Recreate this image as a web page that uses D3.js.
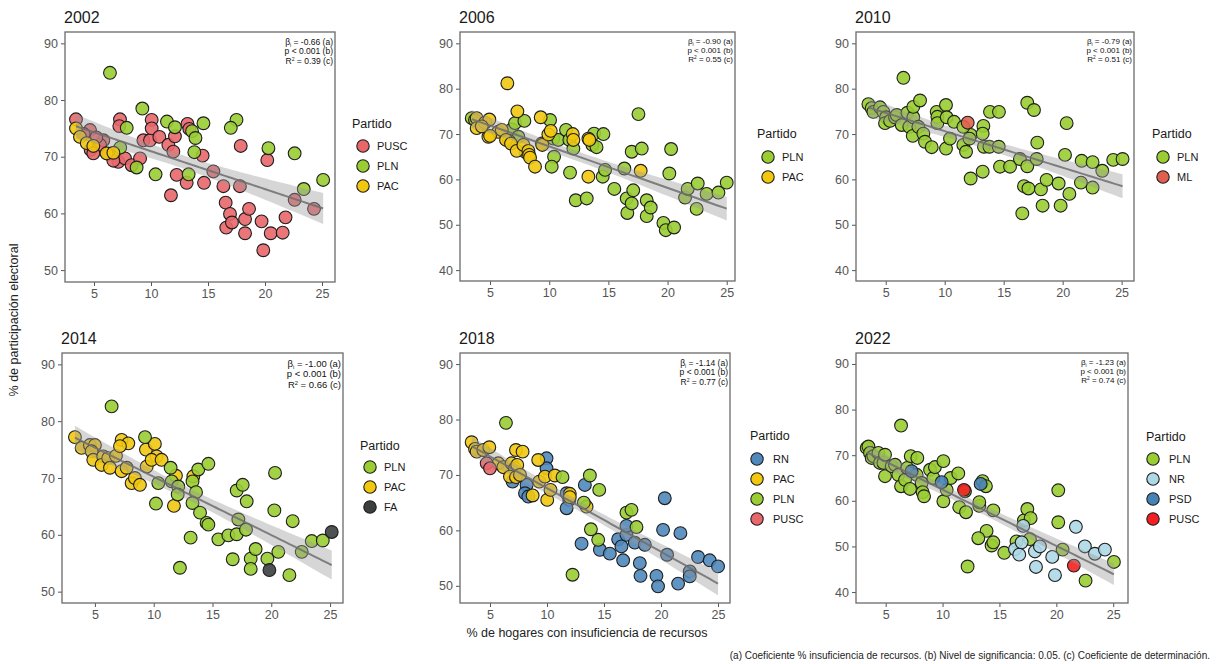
<!DOCTYPE html>
<html><head><meta charset="utf-8">
<script src="https://cdn.jsdelivr.net/npm/d3@7"></script>
<style>body{margin:0;background:#fff} svg{display:block;font-family:"Liberation Sans",Arial,sans-serif}</style>
</head><body><svg id="c" width="1216" height="664"></svg>
<script>
// ---------------- DATA ----------------
const years = ["2002","2006","2010","2014","2018","2022"];
const xTickValues = [5,10,15,20,25];
const yTicks2002 = [50,60,70,80,90];
const yTicks2006 = [40,50,60,70,80,90];
const yTicks2010 = [40,50,60,70,80,90];
const yTicks2014 = [50,60,70,80,90];
const yTicks2018 = [50,60,70,80,90];
const yTicks2022 = [40,50,60,70,80,90];
const betaLabels = ["-0.66","-0.90","-0.79","-1.00","-1.14","-1.23"];
const pLabels = ["p < 0.001 (b)","p < 0.001 (b)","p < 0.001 (b)","p < 0.001 (b)","p < 0.001 (b)","p < 0.001 (b)"];
const r2Labels = ["0.39","0.55","0.51","0.66","0.77","0.74"];

// 2002
const parties2002 = ["PUSC","PLN","PAC"];
const pts2002_PUSC = [[3.42,76.6],[4.65,74.7],[5.82,72.9],[5.53,72.1],[4.71,71.2],[4.94,70.6],[6.26,70.5],[7.13,69.1],[7.72,69.7],[8.3,68.5],[7.28,76.6],[7.22,75.4],[9.33,72.9],[9.91,72.9],[10.06,76.5],[10.06,75.0],[10.73,73.5],[11.52,72.1],[11.96,70.9],[12.1,73.6],[13.2,75.8],[13.36,74.9],[14.53,70.2],[12.25,66.8],[13.13,65.4],[11.75,63.2],[14.65,65.4],[15.47,67.4],[16.35,64.8],[17.8,64.8],[17.87,71.9],[16.55,61.9],[16.93,59.9],[18.25,59.0],[18.6,60.8],[16.6,57.5],[17.1,58.4],[18.25,56.5],[19.7,58.6],[20.5,56.5],[21.55,56.6],[21.8,59.3],[20.2,69.4],[22.6,62.4],[24.3,60.8],[19.85,53.5],[6.7,69.3],[9.04,69.7],[4.1,74.0],[5.2,73.4]];
const pts2002_PLN = [[6.4,84.8],[9.24,78.5],[7.87,75.1],[7.3,71.6],[11.4,76.2],[12.1,75.2],[14.6,75.9],[13.6,74.5],[13.9,73.3],[13.8,70.8],[17.5,76.5],[17.0,75.1],[20.3,71.5],[22.6,70.6],[25.1,65.9],[23.4,64.3],[8.74,68.1],[10.4,66.9],[13.3,66.9]];
const pts2002_PAC = [[3.42,75.0],[3.77,73.5],[4.36,72.4],[4.94,71.9],[6.1,70.6],[6.7,70.7]];

// 2006
const parties2006 = ["PLN","PAC"];
const pts2006_PLN = [[3.45,73.5],[3.73,73.1],[6.83,71.0],[7.39,69.4],[7.11,72.4],[7.9,72.9],[10.07,73.1],[10.35,69.0],[10.41,65.0],[10.21,62.8],[10.77,68.7],[11.42,70.9],[11.7,68.7],[12.04,66.8],[11.76,61.5],[12.24,55.4],[13.17,55.8],[13.65,67.6],[13.79,70.1],[14.0,67.1],[14.58,70.0],[14.52,60.6],[14.72,62.1],[15.5,57.9],[16.35,62.4],[16.55,55.8],[16.6,52.6],[16.97,54.7],[17.1,57.6],[16.97,66.1],[17.54,74.4],[17.82,66.8],[18.24,55.4],[18.24,51.9],[18.58,53.8],[19.65,50.4],[19.85,48.8],[20.55,49.4],[20.15,61.3],[20.3,66.7],[21.48,56.0],[22.46,53.5],[21.7,57.9],[22.55,59.1],[23.3,56.8],[24.3,57.1],[25.0,59.3],[6.6,68.5],[8.0,66.0]];
const pts2006_PAC = [[6.46,81.2],[3.87,73.5],[3.87,71.3],[4.58,72.5],[4.94,73.2],[4.86,69.4],[5.7,70.5],[5.99,70.9],[6.35,68.7],[6.77,67.9],[7.31,75.0],[7.25,66.3],[7.82,67.6],[8.24,66.3],[8.3,65.4],[8.38,64.8],[8.8,62.8],[9.28,73.7],[9.37,67.9],[9.42,67.6],[9.93,69.9],[10.13,70.7],[11.99,70.0],[12.04,68.7],[13.31,69.0],[13.39,68.7],[13.31,60.6],[17.73,61.9],[4.3,71.7],[5.0,69.6]];

// 2010
const parties2010 = ["PLN","ML"];
const pts2010_PLN = [[3.53,76.6],[3.81,75.7],[3.95,74.9],[4.52,75.9],[4.8,74.9],[5.03,73.7],[4.94,72.4],[5.37,72.9],[5.79,73.7],[5.93,74.2],[6.36,72.0],[6.5,82.4],[6.84,74.7],[7.0,71.6],[7.34,73.7],[7.34,76.0],[7.29,69.6],[7.77,71.6],[7.91,77.4],[8.19,70.1],[8.33,68.3],[8.9,67.1],[9.32,74.9],[9.38,73.8],[9.38,72.4],[10.11,76.4],[10.17,73.7],[10.11,66.8],[10.45,69.0],[10.79,72.7],[11.58,67.6],[11.81,66.1],[12.2,69.8],[12.2,60.2],[13.22,61.7],[13.28,71.8],[13.22,70.1],[13.33,67.2],[13.79,67.2],[13.84,74.9],[14.58,67.2],[14.6,74.9],[14.69,62.8],[15.54,62.8],[16.38,64.5],[16.58,52.5],[16.72,58.5],[17.0,62.9],[17.1,58.0],[17.0,76.9],[17.57,75.3],[17.8,64.5],[17.85,68.1],[18.16,57.8],[18.3,54.2],[18.64,59.9],[19.66,59.1],[19.83,54.2],[20.34,72.4],[20.2,65.4],[20.57,56.8],[21.61,64.1],[21.55,59.3],[22.54,63.8],[22.54,58.2],[23.36,61.9],[24.29,64.3],[25.08,64.5],[11.58,71.6],[12.1,69.0]];
const pts2010_ML = [[11.95,72.5]];

// 2014
const parties2014 = ["PLN","PAC","FA"];
const pts2014_PLN = [[6.42,82.6],[9.26,77.2],[10.39,69.1],[10.19,65.5],[11.44,71.8],[11.53,69.4],[12.09,68.5],[12.04,67.1],[12.23,54.2],[13.14,59.5],[13.3,69.4],[13.6,67.5],[13.3,65.6],[13.79,71.5],[14.65,72.5],[13.94,63.9],[14.5,62.1],[14.65,61.8],[15.5,59.2],[16.35,59.9],[17.06,60.1],[16.72,55.7],[17.2,62.7],[17.06,67.8],[17.57,68.8],[17.91,65.9],[17.85,60.9],[18.25,55.8],[18.25,54.0],[18.67,57.5],[19.67,55.8],[20.6,57.0],[20.32,70.9],[20.26,64.3],[21.82,62.4],[21.54,52.9],[22.59,57.0],[23.44,58.9],[24.38,59.0]];
const pts2014_PAC = [[3.3,77.2],[3.87,75.3],[4.57,75.8],[5.0,75.8],[4.72,74.7],[4.86,73.2],[5.71,73.8],[5.57,72.3],[6.13,73.5],[6.28,71.8],[6.79,73.9],[7.27,76.7],[7.84,76.1],[7.13,75.6],[7.27,71.2],[7.7,71.8],[8.12,69.1],[8.4,70.0],[8.83,68.8],[9.34,75.0],[9.4,72.0],[10.1,76.0],[10.25,73.8],[9.82,73.2],[10.67,73.2],[11.89,70.4],[11.72,65.1],[13.37,70.3]];
const pts2014_FA = [[19.84,53.8],[25.14,60.5]];

// 2018
const parties2018 = ["RN","PAC","PLN","PUSC"];
const pts2018_RN = [[6.98,68.8],[8.21,68.2],[8.07,66.7],[8.36,66.1],[9.96,73.0],[9.96,71.2],[11.72,66.7],[11.95,65.5],[11.72,64.0],[13.32,68.2],[13.03,57.6],[14.64,56.5],[15.51,55.8],[16.24,58.4],[16.53,57.1],[16.68,54.6],[16.97,59.2],[16.97,60.8],[17.7,57.8],[18.14,54.1],[18.2,51.8],[18.58,57.4],[19.6,51.8],[19.74,49.9],[20.18,60.1],[20.33,65.8],[20.53,55.6],[21.5,50.4],[21.7,59.5],[22.52,52.6],[22.52,51.7],[23.25,55.2],[24.27,54.6],[25.0,53.5]];
const pts2018_PAC = [[3.39,75.9],[3.69,74.7],[3.83,74.2],[4.42,74.5],[4.94,75.0],[5.73,72.1],[6.17,71.4],[6.9,72.1],[7.28,74.5],[7.86,74.2],[7.19,71.2],[7.39,71.8],[6.75,69.7],[7.28,69.6],[7.63,70.0],[8.74,66.3],[9.23,72.7],[9.32,68.8],[9.82,69.7],[10.02,65.5],[10.31,67.3],[10.69,69.9],[12.0,66.6],[12.0,66.0],[13.47,64.3]];
const pts2018_PLN = [[6.4,79.4],[11.36,69.6],[13.76,69.9],[14.58,67.3],[13.23,65.0],[13.85,60.2],[14.49,58.3],[12.24,52.0],[16.97,63.2],[17.41,63.7],[17.85,60.6]];
const pts2018_PUSC = [[4.71,72.1],[5.0,71.2]];

// 2022
const parties2022 = ["PLN","NR","PSD","PUSC"];
const pts2022_PLN = [[3.33,71.6],[3.48,71.9],[3.62,70.5],[3.77,69.4],[3.92,69.8],[4.36,70.5],[4.5,68.3],[4.8,68.3],[4.94,70.1],[4.94,65.4],[5.53,67.6],[5.82,67.9],[6.11,65.7],[6.35,76.5],[6.35,63.2],[6.7,64.6],[6.9,67.2],[7.2,69.8],[7.14,62.6],[7.78,69.4],[7.72,65.7],[8.16,63.9],[8.25,61.9],[8.37,61.0],[8.9,66.8],[9.19,65.0],[9.33,67.4],[10.07,68.7],[10.07,59.9],[10.36,62.4],[10.71,65.0],[11.38,66.0],[11.47,58.6],[11.97,62.1],[12.06,57.5],[13.23,58.9],[13.23,59.7],[13.52,64.3],[13.81,63.2],[14.46,57.9],[13.87,53.4],[13.14,51.8],[14.31,50.2],[14.46,50.9],[12.2,45.6],[15.42,48.6],[16.5,51.1],[17.15,55.7],[17.45,58.2],[17.74,56.2],[17.68,51.6],[20.17,62.3],[20.17,55.3],[20.55,49.3],[22.57,42.5],[25.06,46.6]];
const pts2022_NR = [[16.36,49.4],[16.74,48.2],[16.95,50.9],[17.09,54.5],[18.12,48.9],[18.21,45.5],[18.56,50.0],[19.64,47.7],[19.88,43.7],[21.72,54.3],[22.51,50.0],[23.39,48.4],[24.27,49.3]];
const pts2022_PSD = [[7.28,66.5],[9.92,64.1],[13.35,63.7]];
const pts2022_PUSC = [[11.88,62.4],[21.54,45.8]];

// ---------------- STYLE / LAYOUT ----------------
const colors = {
  "2002": {PUSC:"#E8676B", PLN:"#9ACD32", PAC:"#F2C80F"},
  "2006": {PLN:"#9ACD32", PAC:"#F2C80F"},
  "2010": {PLN:"#9ACD32", ML:"#E0604F"},
  "2014": {PLN:"#9ACD32", PAC:"#F2C80F", FA:"#3B3F3F"},
  "2018": {RN:"#4F88BC", PAC:"#F2C80F", PLN:"#9ACD32", PUSC:"#E8676B"},
  "2022": {PLN:"#9ACD32", NR:"#ADD8E6", PSD:"#4682B4", PUSC:"#F22020"}
};
const panels = [
  {year:"2002", parties:parties2002, drawOrder:["PUSC","PLN","PAC"], series:{PUSC:pts2002_PUSC,PLN:pts2002_PLN,PAC:pts2002_PAC}, yTicks:yTicks2002,
   left:65,right:335,top:32,bottom:282, xd:[2.456,26.14], yd:[47.9,92.0], leg:{x:352,y:124,cx:363,tx:377,y0:146}, fs:8.5},
  {year:"2006", parties:parties2006, drawOrder:["PLN","PAC"], series:{PLN:pts2006_PLN,PAC:pts2006_PAC}, yTicks:yTicks2006,
   left:460,right:735,top:32,bottom:281, xd:[2.46,25.7], yd:[37.6,92.5], leg:{x:757,y:134,cx:768,tx:782,y0:157}, fs:8},
  {year:"2010", parties:parties2010, drawOrder:["PLN","ML"], series:{PLN:pts2010_PLN,ML:pts2010_ML}, yTicks:yTicks2010,
   left:856,right:1134,top:32,bottom:281, xd:[2.48,26.05], yd:[37.6,92.5], leg:{x:1152,y:134,cx:1163,tx:1177,y0:157}, fs:8},
  {year:"2014", parties:parties2014, drawOrder:["PAC","PLN","FA"], series:{PLN:pts2014_PLN,PAC:pts2014_PAC,FA:pts2014_FA}, yTicks:yTicks2014,
   left:62,right:343,top:353,bottom:603, xd:[2.2,26.1], yd:[48,92], leg:{x:360,y:446,cx:370,tx:384,y0:467}, fs:9.5},
  {year:"2018", parties:parties2018, drawOrder:["RN","PAC","PLN","PUSC"], series:{RN:pts2018_RN,PAC:pts2018_PAC,PLN:pts2018_PLN,PUSC:pts2018_PUSC}, yTicks:yTicks2018,
   left:460,right:730,top:353,bottom:603, xd:[2.37,26.05], yd:[46.9,92], leg:{x:750,y:436,cx:757,tx:773,y0:459}, fs:8.5},
  {year:"2022", parties:parties2022, drawOrder:["PLN","NR","PSD","PUSC"], series:{PLN:pts2022_PLN,NR:pts2022_NR,PSD:pts2022_PSD,PUSC:pts2022_PUSC}, yTicks:yTicks2022,
   left:856,right:1128,top:353,bottom:603, xd:[2.39,26.3], yd:[37.6,92.4], leg:{x:1146,y:437,cx:1153,tx:1169,y0:459}, fs:8}
];

const svg = d3.select("#c");
const tickCol = "#555";

panels.forEach((P, i) => {
  const g = svg.append("g");
  const x = d3.scaleLinear().domain(P.xd).range([P.left, P.right]);
  const y = d3.scaleLinear().domain(P.yd).range([P.bottom, P.top]);

  // title
  g.append("text").attr("x", P.left - 1).attr("y", P.top - 9)
    .attr("font-size", 16).attr("fill", "#1a1a1a").text(P.year);

  // axes
  const ax = g.append("g").attr("transform", `translate(0,${P.bottom})`)
    .call(d3.axisBottom(x).tickValues(xTickValues).tickSize(4).tickPadding(3));
  const ay = g.append("g").attr("transform", `translate(${P.left},0)`)
    .call(d3.axisLeft(y).tickValues(P.yTicks).tickSize(4).tickPadding(3));
  [ax, ay].forEach(a => {
    a.select(".domain").remove();
    a.selectAll("line").attr("stroke", tickCol);
    a.selectAll("text").attr("fill", tickCol).attr("font-size", 12.5)
      .attr("font-family", '"Liberation Sans",Arial,sans-serif');
  });

  // points
  const all = [];
  P.drawOrder.forEach(k => P.series[k].forEach(d => all.push({x:d[0], y:d[1], k})));
  g.append("g").selectAll("circle").data(all).join("circle")
    .attr("cx", d => x(d.x)).attr("cy", d => y(d.y)).attr("r", 6.4)
    .attr("fill", d => colors[P.year][d.k]).attr("fill-opacity", 0.9)
    .attr("stroke", "#1e1e1e").attr("stroke-width", 1.1);

  // regression (lm + 95% CI)
  const n = all.length;
  const mx = d3.mean(all, d => d.x), my = d3.mean(all, d => d.y);
  const sxx = d3.sum(all, d => (d.x - mx) ** 2);
  const sxy = d3.sum(all, d => (d.x - mx) * (d.y - my));
  const b = sxy / sxx, a0 = my - b * mx;
  const s = Math.sqrt(d3.sum(all, d => (d.y - a0 - b * d.x) ** 2) / (n - 2));
  const t = 1.99;
  const [x0, x1] = d3.extent(all, d => d.x);
  const xs = d3.range(0, 61).map(j => x0 + (x1 - x0) * j / 60);
  const band = xs.map(v => {
    const f = a0 + b * v, se = s * Math.sqrt(1 / n + (v - mx) ** 2 / sxx);
    return {v, lo: f - t * se, hi: f + t * se, f};
  });
  g.append("path").datum(band)
    .attr("d", d3.area().x(d => x(d.v)).y0(d => y(d.lo)).y1(d => y(d.hi)))
    .attr("fill", "#999").attr("fill-opacity", 0.4);
  g.append("path").datum(band)
    .attr("d", d3.line().x(d => x(d.v)).y(d => y(d.f)))
    .attr("fill", "none").attr("stroke", "#6e6e6e").attr("stroke-width", 2).attr("stroke-opacity", 0.85);

  // border
  g.append("rect").attr("x", P.left).attr("y", P.top)
    .attr("width", P.right - P.left).attr("height", P.bottom - P.top)
    .attr("fill", "none").attr("stroke", "#6a6a6a").attr("stroke-width", 1.3);

  // stats annotation
  const ann = g.append("g").attr("font-size", P.fs).attr("fill", "#111").attr("text-anchor", "end");
  const ax1 = P.right - 2, lh = P.fs * 1.15;
  const t1 = ann.append("text").attr("x", ax1).attr("y", P.top + 4 + P.fs);
  t1.append("tspan").text("\u03B2");
  t1.append("tspan").attr("font-size", P.fs * 0.6).attr("dy", 2).text("i");
  t1.append("tspan").attr("dy", -2).text(" =  " + betaLabels[i] + " (a)");
  ann.append("text").attr("x", ax1).attr("y", P.top + 4 + P.fs + lh).text(pLabels[i]);
  const t3 = ann.append("text").attr("x", ax1).attr("y", P.top + 4 + P.fs + 2 * lh);
  t3.append("tspan").text("R");
  t3.append("tspan").attr("font-size", P.fs * 0.6).attr("dy", -3).text("2");
  t3.append("tspan").attr("dy", 3).text(" = " + r2Labels[i] + " (c)");

  // legend
  const L = P.leg;
  const lg = g.append("g");
  lg.append("text").attr("x", L.x).attr("y", L.y + 4).attr("font-size", 12.5).attr("fill", "#1a1a1a").text("Partido");
  P.parties.forEach((k, j) => {
    const cy = L.y0 + j * 20;
    lg.append("circle").attr("cx", L.cx).attr("cy", cy).attr("r", 6.2)
      .attr("fill", colors[P.year][k]).attr("stroke", "#1e1e1e").attr("stroke-width", 1.1);
    lg.append("text").attr("x", L.tx).attr("y", cy + 4).attr("font-size", 11).attr("fill", "#1a1a1a").text(k);
  });
});

// global labels
svg.append("text").attr("transform", "translate(18,320) rotate(-90)")
  .attr("text-anchor", "middle").attr("font-size", 12.5).attr("fill", "#222")
  .text("% de participación electoral");
svg.append("text").attr("x", 587).attr("y", 637).attr("text-anchor", "middle")
  .attr("font-size", 12.5).attr("fill", "#222")
  .text("% de hogares con insuficiencia de recursos");
svg.append("text").attr("x", 1210).attr("y", 659).attr("text-anchor", "end")
  .attr("font-size", 10).attr("fill", "#222")
  .text("(a) Coeficiente % insuficiencia de recursos. (b) Nivel de significancia: 0.05. (c) Coeficiente de determinación.");
</script></body></html>
